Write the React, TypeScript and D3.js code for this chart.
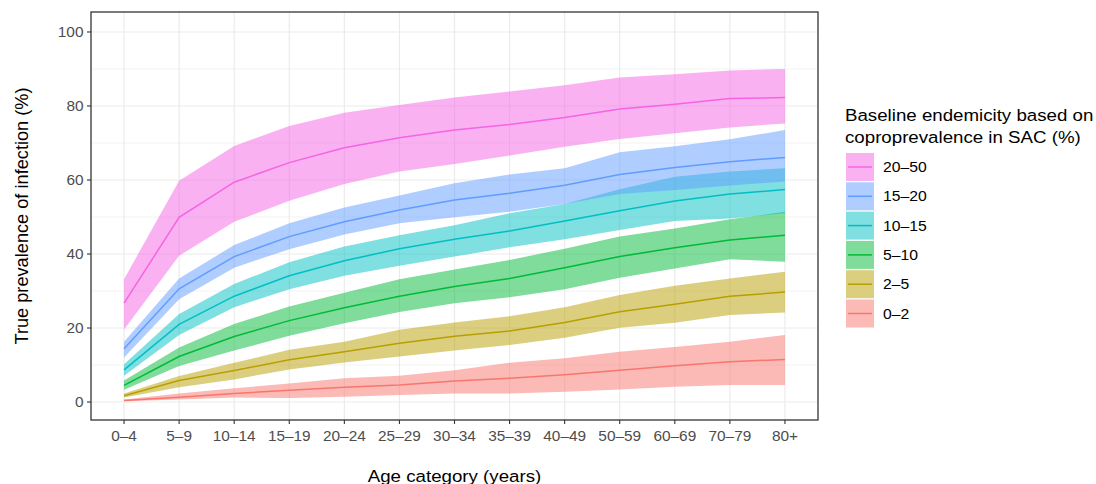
import React from "react";
import * as d3 from "d3";

const ageCategories = ["0–4", "5–9", "10–14", "15–19", "20–24", "25–29", "30–34", "35–39", "40–49", "50–59", "60–69", "70–79", "80+"];
const groupLabels = ["0–2", "2–5", "5–10", "10–15", "15–20", "20–50"];
const groupColors = ["#F8766D", "#B79F00", "#00BA38", "#00BFC4", "#619CFF", "#F564E3"];

// median, lower, upper for each group (in order of groupLabels)
const median02 = [0.4, 1.3, 2.3, 3.2, 4.0, 4.6, 5.7, 6.4, 7.4, 8.6, 9.8, 10.9, 11.5];
const lower02 = [0.2, 0.7, 1.2, 1.1, 1.4, 1.9, 2.3, 2.3, 2.8, 3.4, 4.1, 4.6, 4.6];
const upper02 = [0.7, 2.3, 3.7, 5.0, 6.4, 7.1, 8.6, 10.6, 11.8, 13.6, 14.9, 16.3, 18.1];

const median25 = [1.7, 5.8, 8.5, 11.4, 13.6, 15.9, 17.8, 19.2, 21.5, 24.4, 26.4, 28.6, 29.7];
const lower25 = [1.2, 4.0, 6.1, 8.8, 10.7, 12.3, 13.9, 15.4, 17.4, 20.1, 21.4, 23.5, 24.2];
const upper25 = [2.3, 7.0, 10.6, 14.1, 16.3, 19.5, 21.5, 23.2, 25.6, 28.9, 31.4, 33.4, 35.2];

const median510 = [4.5, 12.3, 17.7, 22.0, 25.5, 28.6, 31.2, 33.4, 36.3, 39.3, 41.7, 43.8, 45.1];
const lower510 = [3.3, 9.7, 13.9, 17.9, 21.3, 24.3, 26.7, 28.3, 30.5, 33.6, 36.1, 38.6, 37.9];
const upper510 = [5.8, 14.7, 21.1, 25.8, 29.5, 33.2, 35.8, 38.4, 41.4, 44.7, 46.9, 49.4, 51.4];

const median1015 = [8.7, 21.0, 28.6, 34.1, 38.2, 41.4, 44.0, 46.2, 48.9, 51.7, 54.3, 56.2, 57.4];
const lower1015 = [7.1, 18.1, 25.6, 30.5, 34.1, 36.8, 39.3, 41.8, 44.0, 46.5, 48.9, 49.6, 51.0];
const upper1015 = [10.2, 23.8, 31.9, 37.8, 42.0, 45.1, 47.8, 51.0, 53.5, 57.5, 60.9, 62.3, 63.2];

const median1520 = [14.4, 30.6, 39.3, 44.7, 48.7, 51.9, 54.6, 56.4, 58.6, 61.5, 63.4, 64.9, 66.1];
const lower1520 = [12.0, 27.8, 36.3, 41.3, 45.3, 48.3, 49.9, 51.4, 53.5, 56.2, 57.3, 58.5, 59.6];
const upper1520 = [16.3, 33.4, 42.4, 48.3, 52.6, 55.8, 59.1, 61.5, 63.2, 67.5, 69.1, 71.0, 73.5];

const median2050 = [26.7, 49.9, 59.4, 64.7, 68.7, 71.4, 73.5, 75.0, 76.9, 79.2, 80.5, 82.0, 82.3];
const lower2050 = [19.6, 39.5, 48.7, 54.4, 58.9, 62.3, 64.3, 66.6, 69.0, 71.1, 72.6, 74.2, 75.3];
const upper2050 = [33.2, 59.8, 69.2, 74.6, 78.2, 80.3, 82.3, 83.9, 85.6, 87.7, 88.6, 89.6, 90.0];

const medians = [median02, median25, median510, median1015, median1520, median2050];
const lowers = [lower02, lower25, lower510, lower1015, lower1520, lower2050];
const uppers = [upper02, upper25, upper510, upper1015, upper1520, upper2050];

const yTicks = [0, 20, 40, 60, 80, 100];
const yMinorTicks = [10, 30, 50, 70, 90];

const FONT = "'Liberation Sans', Arial, Helvetica, sans-serif";

function T(props: { x: number; y: number; size: number; anchor?: string; fill?: string; sx?: number; children: React.ReactNode }) {
  const { x, y, size, anchor = "start", fill = "#000", sx = 1.1, children } = props;
  return (
    <g transform={`translate(${x},${y}) scale(${sx},1)`}>
      <text x={0} y={0} dy="0.35em" textAnchor={anchor as any} fontSize={size} fill={fill}>{children}</text>
    </g>
  );
}

export default function App() {
  const W = 1096, H = 484;
  const panel = { left: 91, right: 818, top: 12, bottom: 420 };

  const x = d3.scalePoint<string>().domain(ageCategories).range([panel.left, panel.right]).padding(0.6);
  const y = d3.scaleLinear().domain([-4.86, 105.4]).range([panel.bottom, panel.top]);

  const ribbon = (lo: number[], hi: number[]) =>
    d3.area<number>()
      .x((_, i) => x(ageCategories[i])!)
      .y0((_, i) => y(lo[i]))
      .y1((_, i) => y(hi[i]))(lo) as string;

  const line = d3.line<number>()
    .x((_, i) => x(ageCategories[i])!)
    .y((d) => y(d));

  const legendX = 846;
  const legendY0 = 153;
  const keyPitch = 29.3;
  const legendOrder = [5, 4, 3, 2, 1, 0];

  return (
    <svg width={W} height={H} style={{ position: "absolute", left: 0, top: 0 }} fontFamily={FONT}>
      <rect x={0} y={0} width={W} height={H} fill="#fff" />
      {/* grid */}
      {yMinorTicks.map((t) => (
        <line key={"m" + t} x1={panel.left} x2={panel.right} y1={y(t)} y2={y(t)} stroke="#ebebeb" strokeWidth={0.6} />
      ))}
      {yTicks.map((t) => (
        <line key={"g" + t} x1={panel.left} x2={panel.right} y1={y(t)} y2={y(t)} stroke="#ebebeb" strokeWidth={1.2} />
      ))}
      {ageCategories.map((c) => (
        <line key={"gx" + c} x1={x(c)} x2={x(c)} y1={panel.top} y2={panel.bottom} stroke="#ebebeb" strokeWidth={1.2} />
      ))}
      {/* ribbons */}
      {groupLabels.map((g, k) => (
        <path key={"r" + g} d={ribbon(lowers[k], uppers[k])} fill={groupColors[k]} fillOpacity={0.5} stroke="none" />
      ))}
      {/* lines */}
      {groupLabels.map((g, k) => (
        <path key={"l" + g} d={line(medians[k]) as string} fill="none" stroke={groupColors[k]} strokeWidth={1.5} />
      ))}
      {/* panel border */}
      <rect x={panel.left} y={panel.top} width={panel.right - panel.left} height={panel.bottom - panel.top} fill="none" stroke="#333333" strokeWidth={1.3} />
      {/* y axis */}
      {yTicks.map((t) => (
        <g key={"yt" + t}>
          <line x1={panel.left - 4} x2={panel.left} y1={y(t)} y2={y(t)} stroke="#333333" strokeWidth={1.1} />
          <T x={panel.left - 7.5} y={y(t)} size={14} anchor="end" fill="#4d4d4d">{t}</T>
        </g>
      ))}
      {/* x axis */}
      {ageCategories.map((c) => (
        <g key={"xt" + c}>
          <line x1={x(c)} x2={x(c)} y1={panel.bottom} y2={panel.bottom + 4} stroke="#333333" strokeWidth={1.1} />
          <T x={x(c)!} y={435.7} size={14} anchor="middle" fill="#4d4d4d">{c}</T>
        </g>
      ))}
      <T x={(panel.left + panel.right) / 2} y={476} size={17} anchor="middle">Age category (years)</T>
      <text transform={`translate(22,${(panel.top + panel.bottom) / 2}) rotate(-90)`} dy="0.35em" textAnchor="middle" fontSize={18.2} fill="#000">True prevalence of infection (%)</text>
      {/* legend */}
      <T x={845} y={115} size={17}>Baseline endemicity based on</T>
      <T x={845} y={137} size={17}>coproprevalence in SAC (%)</T>
      {legendOrder.map((k, i) => {
        const ky = legendY0 + i * keyPitch;
        return (
          <g key={"lg" + k}>
            <rect x={legendX} y={ky} width={28} height={28} fill={groupColors[k]} fillOpacity={0.5} />
            <line x1={legendX + 2} x2={legendX + 26} y1={ky + 14} y2={ky + 14} stroke={groupColors[k]} strokeWidth={1.5} />
            <T x={883} y={ky + 14} size={14.3}>{groupLabels[k]}</T>
          </g>
        );
      })}
    </svg>
  );
}
